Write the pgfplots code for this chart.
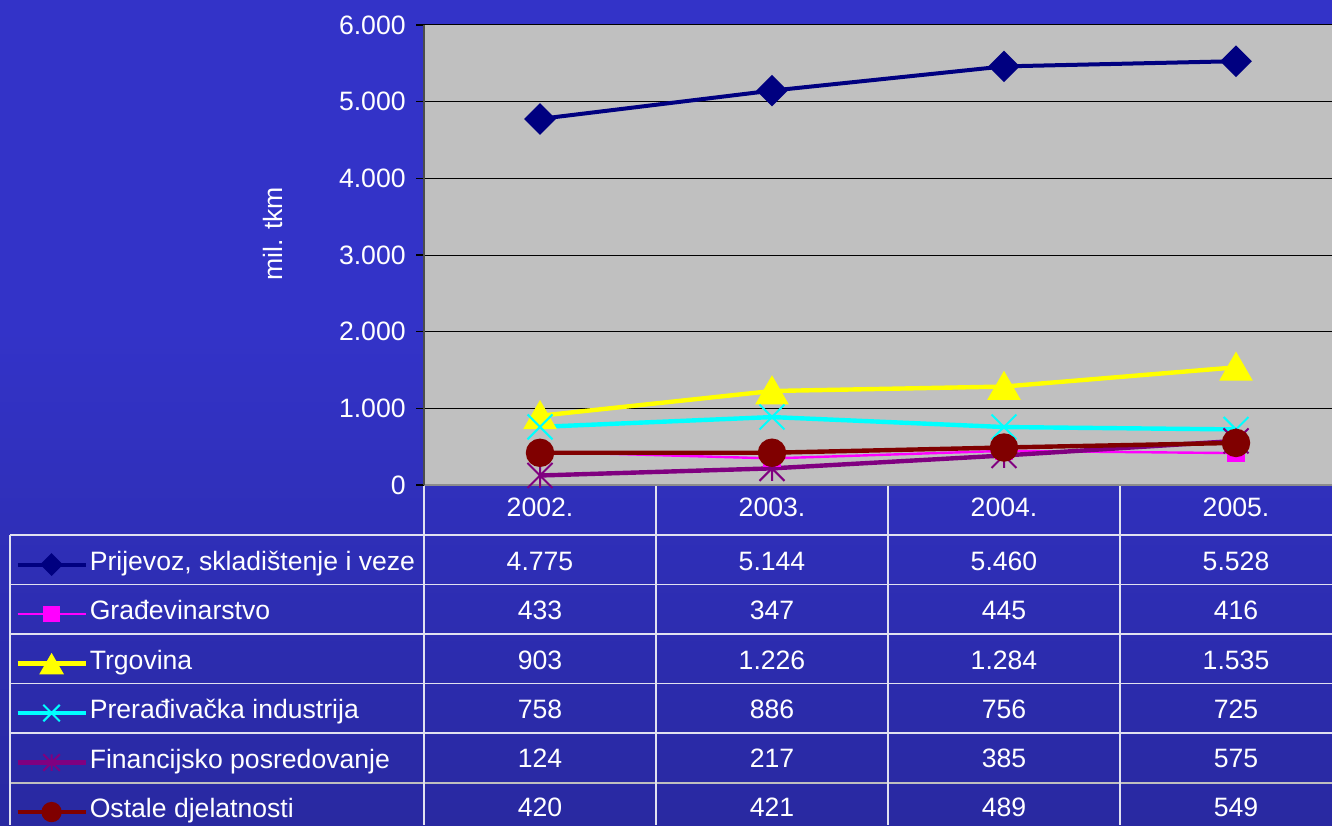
\documentclass[border=0pt]{standalone}
\usepackage{pgfplots}
\pgfplotsset{compat=1.18}
\usepackage{fontspec}
\setmainfont{Liberation Sans}
\definecolor{bgtop}{RGB}{42,42,160}
\definecolor{bgmid}{RGB}{51,51,200}
\definecolor{bgbot}{RGB}{32,32,128}
\definecolor{plotbg}{RGB}{192,192,192}
\definecolor{sNavy}{RGB}{0,0,128}
\definecolor{sMag}{RGB}{255,0,255}
\definecolor{sYel}{RGB}{255,255,0}
\definecolor{sCyan}{RGB}{0,255,255}
\definecolor{sPur}{RGB}{128,0,128}
\definecolor{sMar}{RGB}{128,0,0}
\definecolor{gridw}{RGB}{225,225,240}
\pgfdeclareverticalshading{bgshade}{100bp}{color(0bp)=(bgbot); color(55bp)=(bgmid); color(75bp)=(bgmid); color(100bp)=(bgtop)}
\pgfdeclareplotmark{xlstar}{%
  \pgfpathmoveto{\pgfqpoint{0pt}{\pgfplotmarksize}}%
  \pgfpathlineto{\pgfqpoint{0pt}{-\pgfplotmarksize}}%
  \pgfpathmoveto{\pgfqpoint{-\pgfplotmarksize}{-\pgfplotmarksize}}%
  \pgfpathlineto{\pgfqpoint{\pgfplotmarksize}{\pgfplotmarksize}}%
  \pgfpathmoveto{\pgfqpoint{-\pgfplotmarksize}{\pgfplotmarksize}}%
  \pgfpathlineto{\pgfqpoint{\pgfplotmarksize}{-\pgfplotmarksize}}%
  \pgfusepathqstroke}
\newcommand{\tf}{\fontsize{13.3}{16}\selectfont}
\begin{document}
\begin{tikzpicture}[x=1pt,y=1pt]
\useasboundingbox (0,0) rectangle (666,412.5);
\clip (0,0) rectangle (666,412.5);
\shade[shading=bgshade] (0,0) rectangle (666,412.5);
% table grid
\begin{scope}[draw=gridw, line width=0.6pt]
  \foreach \y in {145,120.25,95.5,70.75,46} {\draw (5,\y) -- (676,\y);}
  \draw[draw=black!25, line width=1pt] (5,21.25) -- (676,21.25);
  \draw (5,145) -- (5,0);
  \foreach \x in {212,328,444,560} {\draw (\x,170) -- (\x,0);}
\end{scope}
\begin{axis}[
  at={(212pt,170pt)}, anchor=south west,
  scale only axis, width=464pt, height=230pt,
  xmin=-0.5, xmax=3.5, ymin=0, ymax=6000,
  xtick=\empty,
  ytick={0,1000,2000,3000,4000,5000,6000},
  ytick pos=left, tick align=outside, major tick length=4pt,
  tick style={black, line width=0.6pt},
  /pgf/number format/assume math mode=true,
  /pgf/number format/1000 sep={.},
  yticklabel style={font=\tf, text=white, anchor=east, inner sep=0pt, xshift=-5pt},
  ymajorgrids, major grid style={black, line width=0.5pt},
  axis lines*=left,
  y axis line style={draw=black!70, line width=1pt},
  x axis line style={draw=black!45, line width=0.6pt},
  axis background/.style={fill=plotbg},
  clip=false,
  ylabel={mil. tkm},
  every axis y label/.style={at={(axis description cs:-0.153,0.4283)}, rotate=90, anchor=base west, font=\tf, text=white},
  legend cell align=left,
  legend style={at={(axis description cs:-0.44073,-0.108696)}, anchor=north west,
    draw=none, fill=none, inner sep=0pt, row sep=0pt, font=\tf, text=white,
    nodes={inner sep=0pt, text height=17.5pt, text depth=7.25pt},
    /tikz/every odd column/.append style={column sep=1pt}},
  legend image code/.code={\draw[mark repeat=2,mark phase=2,#1,every mark/.append style={scale=0.66}] plot coordinates {(0pt,-2.2pt) (17pt,-2.2pt) (34pt,-2.2pt)};},
]
\addplot[color=sNavy, line width=2pt, mark=square*, mark size=4.6pt, mark options={rotate=45, fill=sNavy}]
  coordinates {(0,4775) (1,5144) (2,5460) (3,5528)};
\addlegendentry{Prijevoz, skladištenje i veze}
\addplot[color=sMag, line width=1.2pt, mark=square*, mark size=3.75pt, mark options={fill=sMag},
  legend image post style={every mark/.append style={scale=1.45}}]
  coordinates {(0,433) (1,347) (2,445) (3,416)};
\addlegendentry{Građevinarstvo}
\addplot[color=sYel, line width=2.2pt, mark=triangle*, mark size=7.5pt, mark options={fill=sYel, yshift=-1.8pt}]
  coordinates {(0,903) (1,1226) (2,1284) (3,1535)};
\addlegendentry{Trgovina}
\addplot[color=sCyan, line width=2.2pt, mark=x, mark size=8.8pt, mark options={line width=1pt}]
  coordinates {(0,758) (1,886) (2,756) (3,725)};
\addlegendentry{Prerađivačka industrija}
\addplot[color=sPur, line width=2.2pt, mark=xlstar, mark size=6.25pt, mark options={line width=1pt}]
  coordinates {(0,124) (1,217) (2,385) (3,575)};
\addlegendentry{Financijsko posredovanje}
\addplot[color=sMar, line width=2.2pt, mark=*, mark size=6pt, mark options={fill=sMar}]
  coordinates {(0,420) (1,421) (2,489) (3,549)};
\addlegendentry{Ostale djelatnosti}
\end{axis}
% table text
\begin{scope}[every node/.style={anchor=base, text=white, font=\tf, inner sep=0pt}]
  \node at (270,154) {2002.}; \node at (386,154) {2003.}; \node at (502,154) {2004.}; \node at (618,154) {2005.};
  \node at (270,127.5) {4.775}; \node at (386,127.5) {5.144}; \node at (502,127.5) {5.460}; \node at (618,127.5) {5.528};
  \node at (270,102.75) {433}; \node at (386,102.75) {347}; \node at (502,102.75) {445}; \node at (618,102.75) {416};
  \node at (270,78) {903}; \node at (386,78) {1.226}; \node at (502,78) {1.284}; \node at (618,78) {1.535};
  \node at (270,53.5) {758}; \node at (386,53.5) {886}; \node at (502,53.5) {756}; \node at (618,53.5) {725};
  \node at (270,29) {124}; \node at (386,29) {217}; \node at (502,29) {385}; \node at (618,29) {575};
  \node at (270,4.5) {420}; \node at (386,4.5) {421}; \node at (502,4.5) {489}; \node at (618,4.5) {549};
\end{scope}
\end{tikzpicture}
\end{document}
